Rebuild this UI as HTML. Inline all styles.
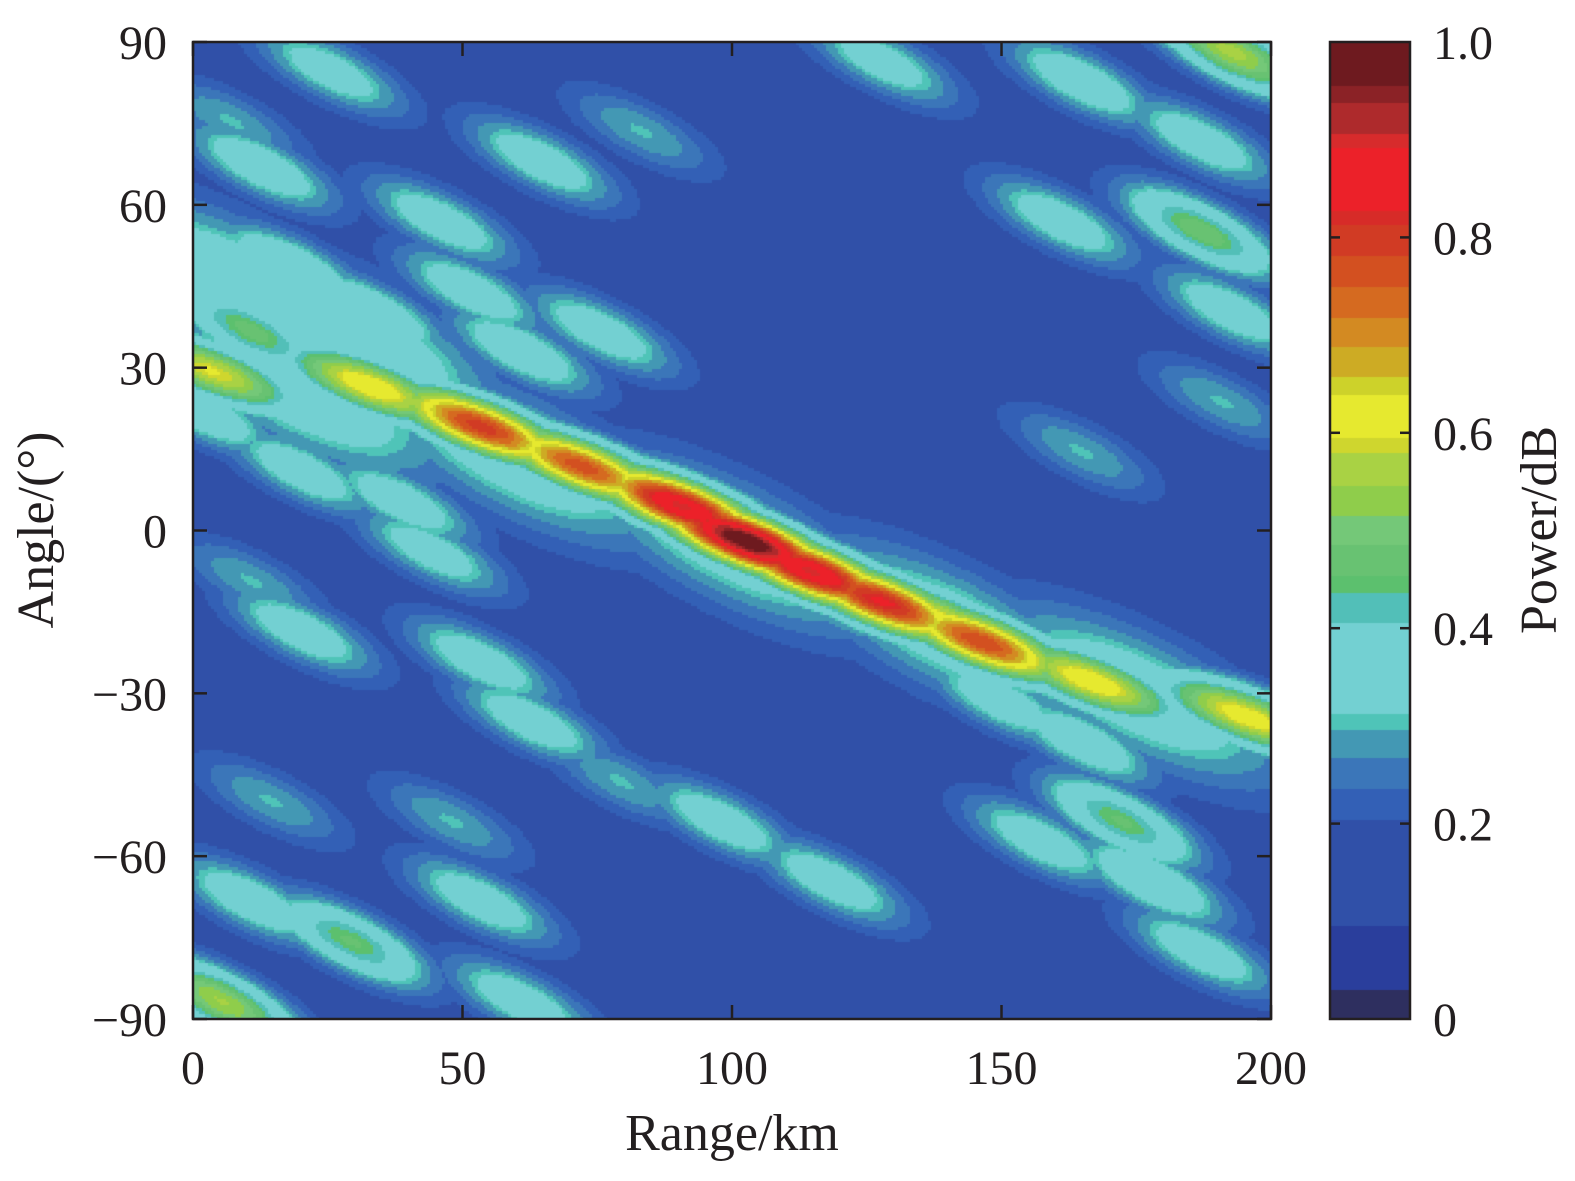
<!DOCTYPE html>
<html><head><meta charset="utf-8">
<style>
html,body{margin:0;padding:0;background:#fff;}
#wrap{position:relative;width:1575px;height:1181px;overflow:hidden;font-family:"Liberation Serif",serif;color:#231f20;}
canvas{position:absolute;}
svg{position:absolute;left:0;top:0;}
</style></head>
<body>
<div id="wrap">
<canvas id="field" width="1078" height="977" style="left:193px;top:42px;"></canvas>
<canvas id="cbar" width="80" height="977" style="left:1330px;top:42px;"></canvas>
<svg id="axes" width="1575" height="1181"></svg>
</div>
<script>
// ---- data ----
const xTicks = [0, 50, 100, 150, 200];
const yTicks = [90, 60, 30, 0, -30, -60, -90];
const cbTicks = [0, 0.2, 0.4, 0.6, 0.8, 1.0];
const cbTickLabels = ["0", "0.2", "0.4", "0.6", "0.8", "1.0"];
const levels = [0, 0.031, 0.096, 0.205, 0.237, 0.268, 0.297, 0.313, 0.407, 0.437, 0.455, 0.486, 0.516, 0.547, 0.580, 0.595, 0.640, 0.658, 0.689, 0.719, 0.750, 0.782, 0.814, 0.828, 0.892, 0.907, 0.938, 0.956];
const levelColors = ["#2e2f5f","#2a3e9c","#3050a8","#3360b6","#3b76b9","#4398b4","#4fc4b8","#73d0d2","#52bfb8","#5cc06e","#68c272","#74c878","#8fcd4b","#a9d244","#cfd62e","#e6e92f","#cdd22a","#cdab24","#d38a22","#d56a20","#d35020","#d13b24","#d72b28","#ec2129","#d72b2c","#ae2a2c","#8b2226","#6e1a1f"];
const baseLevel = 0.16;
const blobRange = [3.2,32.8,53.2,71.8,90.4,102.4,114.5,127.5,136.7,146,166.4,195.2,
  12.4,25.4,45.8,64.4,82.9,75.5,60.7,51.4,18,6.9,127.5,164.6,192.4,186.8,160.9,186.8,192.4,190.5,164.6,
  19.9,10.6,53.2,44,62.5,79.2,47.7,14.3,10.6,5,29.1,53.2,60.7,97.8,118.2,149.7,164.6,172,157.1,177.6,186.8,120,19.9,38.4,1.3,10.6,32.8,
  20,60,100,140,175,28,8];
const blobAngle = [29.6,26.8,19.4,12.1,4.7,-1.7,-7.3,-12.8,-15.6,-20.2,-27.5,-34,
  67.3,84.8,57.2,68.3,73.8,36.9,33.3,44.3,48.9,75.6,86.7,83,88.5,72,57.2,55.4,40.6,24,14.8,
  -18.3,-9.1,-23.9,-3.6,-34.9,-46,-53.3,-49.6,-68,-86.5,-75.4,-68,-86.5,-53.3,-64.4,-31.2,-38.6,-53.3,-57,-64.4,-77.3,-12.8,11.2,5.6,22.2,37,40.6,
  26,14,-2,-18,-30,36,46];
const blobPeak = [0.6,0.64,0.8,0.77,0.9,1.0,0.9,0.84,0.63,0.78,0.64,0.63,
  0.38,0.36,0.37,0.37,0.3,0.37,0.38,0.37,0.4,0.3,0.36,0.38,0.56,0.37,0.37,0.48,0.37,0.3,0.3,
  0.37,0.3,0.37,0.36,0.37,0.3,0.3,0.3,0.38,0.55,0.46,0.37,0.37,0.37,0.37,0.37,0.38,0.46,0.37,0.4,0.37,0.37,0.37,0.37,0.38,0.47,0.4,
  0.38,0.38,0.38,0.38,0.38,0.4,0.38];

const PX0=193, PX1=1271, PY0=42, PY1=1019;
const xs = v => PX0 + (v-0)/(200-0)*(PX1-PX0);
const ys = v => PY0 + (90-v)/180*(PY1-PY0);
const cbY = v => PY1 - v*(PY1-PY0);

function colorFor(v){
  let c = levelColors[0];
  for(let i=0;i<levels.length;i++){ if(v>=levels[i]) c=levelColors[i]; }
  return c;
}

(function(){
  const cv=document.getElementById('field'), ctx=cv.getContext('2d');
  const W=cv.width,H=cv.height, step=3;
  const bx=blobRange.map(r=>xs(r)-PX0), by=blobAngle.map(a=>ys(a)-PY0);
  for(let py=0;py<H;py+=step){
    for(let px=0;px<W;px+=step){
      let v=baseLevel;
      for(let k=0;k<bx.length;k++){
        const p=blobPeak[k];
        const ridge=p>0.55 && k<12;
        const env=k>=58;
        const th=(ridge?21:27)*Math.PI/180;
        const dx=px-bx[k], dy=py-by[k];
        const a=dx*Math.cos(th)+dy*Math.sin(th);
        const b=-dx*Math.sin(th)+dy*Math.cos(th);
        const sa=env?120:(ridge?70:62), sb=env?42:(ridge?20:21);
        const g=Math.exp(-(a*a)/(2*sa*sa)-(b*b)/(2*sb*sb));
        const val=baseLevel+(p-baseLevel)*g;
        if(val>v) v=val;
      }
      ctx.fillStyle=colorFor(v);
      ctx.fillRect(px,py,step,step);
    }
  }
})();

(function(){
  const cv=document.getElementById('cbar'), ctx=cv.getContext('2d');
  for(let i=0;i<levels.length;i++){
    const lo=levels[i], hi=i+1<levels.length?levels[i+1]:1;
    const y0=cbY(hi)-PY0, y1=cbY(lo)-PY0;
    ctx.fillStyle=levelColors[i];
    ctx.fillRect(0,Math.floor(y0),80,Math.ceil(y1-y0)+1);
  }
})();

(function(){
  const svg=document.getElementById('axes'), NS='http://www.w3.org/2000/svg';
  function el(tag,attrs,text){const e=document.createElementNS(NS,tag);for(const k in attrs)e.setAttribute(k,attrs[k]);if(text!==undefined)e.textContent=text;svg.appendChild(e);return e;}
  let r=el('rect',{x:PX0,y:PY0,width:PX1-PX0,height:PY1-PY0,fill:'none',stroke:'#231f20','stroke-width':2.5});
  
  
  xTicks.forEach(t=>{
    const x=xs(t);
    let l=el('line',{x1:x,y1:PY1,x2:x,y2:PY1-14,stroke:'#231f20','stroke-width':2.5});
    
    
    let l2=el('line',{x1:x,y1:PY0,x2:x,y2:PY0+14,stroke:'#231f20','stroke-width':2.5});
    
    
    let tx=el('text',{x:x,y:1084,'text-anchor':'middle','font-size':48,fill:'#231f20'},String(t));
    
    
  });
  yTicks.forEach(t=>{
    const y=ys(t);
    let l=el('line',{x1:PX0,y1:y,x2:PX0+14,y2:y,stroke:'#231f20','stroke-width':2.5});
    
    
    let l2=el('line',{x1:PX1,y1:y,x2:PX1-14,y2:y,stroke:'#231f20','stroke-width':2.5});
    
    
    let tx=el('text',{x:167,y:y+17,'text-anchor':'end','font-size':48,fill:'#231f20'},(t<0?'\u2212':'')+Math.abs(t));
    
    
  });
  let xt=el('text',{x:732,y:1150,'text-anchor':'middle','font-size':52,fill:'#231f20'},'Range/km');
  
  
  let yt=el('text',{x:0,y:0,'text-anchor':'middle','font-size':52,fill:'#231f20',transform:'translate(53,530) rotate(-90)'},'Angle/(\u00b0)');
  
  
  let cr=el('rect',{x:1330,y:PY0,width:80,height:PY1-PY0,fill:'none',stroke:'#231f20','stroke-width':2.5});
  
  
  cbTicks.forEach((t,i)=>{
    const y=cbY(t);
    if(t>0&&t<1){
      let a=el('line',{x1:1330,y1:y,x2:1340,y2:y,stroke:'#231f20','stroke-width':2.5});
      
      
      let b=el('line',{x1:1410,y1:y,x2:1400,y2:y,stroke:'#231f20','stroke-width':2.5});
      
      
    }
    let tx=el('text',{x:1433,y:y+17,'font-size':48,fill:'#231f20'},cbTickLabels[i]);
    
    
  });
  let ct=el('text',{x:0,y:0,'text-anchor':'middle','font-size':52,fill:'#231f20',transform:'translate(1556,530) rotate(-90)'},'Power/dB');
  
  
})();
</script>
</body></html>
